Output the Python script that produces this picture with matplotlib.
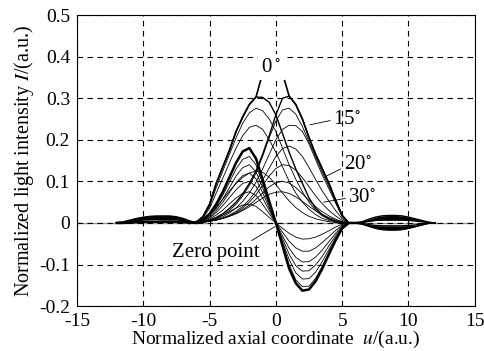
import numpy as np
import matplotlib
matplotlib.use('Agg')
import matplotlib.pyplot as plt

plt.rcParams['font.family'] = ['Liberation Serif', 'DejaVu Serif']
plt.rcParams['mathtext.fontset'] = 'stix'

# axial coordinate grid of the main lobe
u = np.arange(-6.5, 6.51, 0.5)

# main curve (0 deg)
c0 = [0, 0.002, 0.015, 0.045, 0.095, 0.135, 0.175, 0.22, 0.255, 0.285, 0.303, 0.36, 0.40, 0.405,
      0.36, 0.305, 0.285, 0.25, 0.205, 0.165, 0.13, 0.095, 0.055, 0.018, 0, 0, 0]

# bells shifted to the left
l1 = [0, 0.002, 0.015, 0.045, 0.095, 0.135, 0.175, 0.22, 0.255, 0.285, 0.303, 0.302, 0.29, 0.26,
      0.215, 0.17, 0.13, 0.095, 0.06, 0.035, 0.02, 0.01, 0.004, 0.001, 0, 0, 0]
l2 = [0, 0.002, 0.013, 0.04, 0.085, 0.125, 0.165, 0.205, 0.24, 0.265, 0.276, 0.27, 0.25, 0.22,
      0.18, 0.14, 0.105, 0.075, 0.05, 0.03, 0.017, 0.009, 0.004, 0.001, 0, 0, 0]
l3 = [0, 0.002, 0.012, 0.035, 0.072, 0.108, 0.145, 0.18, 0.21, 0.23, 0.235, 0.225, 0.2, 0.17,
      0.135, 0.1, 0.072, 0.05, 0.033, 0.02, 0.011, 0.006, 0.003, 0.001, 0, 0, 0]
l4 = [0, 0.002, 0.008, 0.02, 0.037, 0.057, 0.077, 0.095, 0.11, 0.12, 0.125, 0.122, 0.11, 0.092,
      0.072, 0.053, 0.037, 0.025, 0.016, 0.01, 0.006, 0.003, 0.001, 0, 0, 0, 0]

# bells shifted to the right
r1 = [0, 0.001, 0.003, 0.007, 0.013, 0.022, 0.035, 0.05, 0.07, 0.095, 0.125, 0.165, 0.21, 0.26,
      0.30, 0.305, 0.285, 0.25, 0.205, 0.165, 0.13, 0.095, 0.055, 0.018, 0, 0, 0]
r2 = [0, 0.001, 0.003, 0.006, 0.011, 0.019, 0.03, 0.045, 0.065, 0.09, 0.12, 0.16, 0.205, 0.245,
      0.272, 0.276, 0.262, 0.232, 0.195, 0.158, 0.122, 0.088, 0.052, 0.017, 0, 0, 0]
r3 = [0, 0.001, 0.002, 0.005, 0.009, 0.015, 0.024, 0.036, 0.052, 0.072, 0.098, 0.13, 0.165, 0.2,
      0.225, 0.235, 0.234, 0.22, 0.19, 0.152, 0.115, 0.082, 0.048, 0.015, 0, 0, 0]
r4 = [0, 0.001, 0.002, 0.004, 0.007, 0.012, 0.019, 0.028, 0.04, 0.056, 0.077, 0.103, 0.132, 0.16,
      0.179, 0.185, 0.178, 0.16, 0.133, 0.104, 0.077, 0.053, 0.03, 0.01, 0, 0, 0]
r5 = [0, 0.001, 0.002, 0.004, 0.007, 0.011, 0.017, 0.025, 0.036, 0.05, 0.068, 0.09, 0.113, 0.131,
      0.14, 0.138, 0.127, 0.109, 0.087, 0.065, 0.046, 0.03, 0.017, 0.006, 0, 0, 0]
r6 = [0, 0.001, 0.002, 0.004, 0.007, 0.011, 0.016, 0.023, 0.032, 0.043, 0.057, 0.072, 0.087, 0.097,
      0.1, 0.096, 0.085, 0.07, 0.054, 0.039, 0.027, 0.017, 0.009, 0.003, 0, 0, 0]
r7 = [0, 0.001, 0.002, 0.004, 0.007, 0.011, 0.016, 0.022, 0.03, 0.039, 0.049, 0.06, 0.069, 0.074,
      0.075, 0.071, 0.063, 0.052, 0.04, 0.029, 0.02, 0.013, 0.007, 0.002, 0, 0, 0]

# curves going through the zero point
n1 = [0, 0.002, 0.008, 0.022, 0.045, 0.075, 0.11, 0.145, 0.172, 0.18, 0.155, 0.105, 0.052, 0,
      -0.055, -0.11, -0.145, -0.163, -0.16, -0.14, -0.11, -0.075, -0.042, -0.013, 0, 0, 0]
n2 = [0, 0.002, 0.007, 0.02, 0.04, 0.067, 0.098, 0.13, 0.153, 0.16, 0.14, 0.095, 0.047, 0,
      -0.05, -0.1, -0.137, -0.153, -0.152, -0.133, -0.104, -0.071, -0.04, -0.012, 0, 0, 0]
n3 = [0, 0.002, 0.006, 0.017, 0.035, 0.058, 0.085, 0.113, 0.133, 0.14, 0.123, 0.085, 0.042, 0,
      -0.045, -0.088, -0.12, -0.135, -0.134, -0.118, -0.093, -0.064, -0.036, -0.011, 0, 0, 0]
n4 = [0, 0.001, 0.005, 0.014, 0.03, 0.05, 0.073, 0.097, 0.114, 0.12, 0.106, 0.073, 0.036, 0,
      -0.038, -0.075, -0.103, -0.116, -0.115, -0.101, -0.08, -0.055, -0.031, -0.01, 0, 0, 0]
n5 = [0, 0.001, 0.004, 0.012, 0.025, 0.042, 0.061, 0.08, 0.095, 0.1, 0.088, 0.06, 0.03, 0,
      -0.031, -0.061, -0.083, -0.094, -0.093, -0.082, -0.065, -0.045, -0.025, -0.008, 0, 0, 0]
n6 = [0, 0.001, 0.003, 0.009, 0.019, 0.031, 0.046, 0.06, 0.071, 0.075, 0.066, 0.045, 0.022, 0,
      -0.022, -0.044, -0.06, -0.068, -0.068, -0.06, -0.047, -0.033, -0.018, -0.006, 0, 0, 0]
n7 = [0, 0.001, 0.002, 0.005, 0.011, 0.019, 0.027, 0.036, 0.043, 0.045, 0.04, 0.027, 0.013, 0,
      -0.013, -0.025, -0.034, -0.039, -0.038, -0.034, -0.027, -0.019, -0.01, -0.003, 0, 0, 0]

# side lobes
u_left = np.arange(-12, -5.99, 0.5)
left_outer = [0, 0.002, 0.006, 0.01, 0.013, 0.015, 0.016, 0.016, 0.016, 0.014, 0.01, 0.004, 0]
left_inner = [0, 0.001, 0.003, 0.005, 0.007, 0.008, 0.008, 0.007, 0.007, 0.007, 0.005, 0.002, 0]
left_base = [0, 0, 0.001, 0.002, 0.003, 0.003, 0.003, 0.003, 0.003, 0.003, 0.002, 0.001, 0]

u_right = np.arange(6, 12.01, 0.5)
right_up_outer = [0, 0.003, 0.009, 0.014, 0.017, 0.018, 0.018, 0.017, 0.014, 0.01, 0.006, 0.002, 0]
right_up_inner = [0, 0.001, 0.004, 0.006, 0.007, 0.007, 0.007, 0.007, 0.006, 0.005, 0.003, 0.001, 0]
right_lo_outer = [0, -0.003, -0.008, -0.013, -0.016, -0.017, -0.017, -0.016, -0.013, -0.009, -0.005, -0.001, 0]
right_lo_inner = [0, -0.001, -0.004, -0.006, -0.007, -0.007, -0.007, -0.007, -0.006, -0.005, -0.002, -0.001, 0]

fig = plt.figure(figsize=(4.84, 3.51), dpi=100)
ax = fig.add_axes([0.159, 0.128, 0.822, 0.829])

ax.axhline(0, color='#999999', lw=1.0, zorder=1)

thin = [l2, l3, l4, r2, r3, r4, r5, r6, r7, n2, n3, n4, n5, n6, n7]
for c in thin:
    ax.plot(u, c, color='black', lw=0.6, zorder=3)
ax.plot(u, l1, color='black', lw=1.0, zorder=3)
ax.plot(u, r1, color='black', lw=1.0, zorder=3)
ax.plot(u, n1, color='black', lw=1.8, zorder=3)
ax.plot(u, c0, color='black', lw=1.2, zorder=3)

ax.fill_between(u_left, left_inner, left_outer, color='black', lw=0, zorder=3)
ax.plot(u_left, left_outer, color='black', lw=1.5, zorder=3)
ax.plot(u_left, left_base, color='black', lw=1.8, zorder=3)
ax.fill_between(u_right, right_up_inner, right_up_outer, color='black', lw=0, zorder=3)
ax.fill_between(u_right, right_lo_outer, right_lo_inner, color='black', lw=0, zorder=3)
for c in [right_up_outer, right_up_inner, right_lo_outer, right_lo_inner]:
    ax.plot(u_right, c, color='black', lw=1.0, zorder=3)

ax.set_xlim(-15, 15)
ax.set_ylim(-0.2, 0.5)
ax.set_xticks([-15, -10, -5, 0, 5, 10, 15])
ax.set_xticklabels(['-15', '-10', '-5', '0', '5', '10', '15'])
ax.set_yticks([-0.2, -0.1, 0, 0.1, 0.2, 0.3, 0.4, 0.5])
ax.set_yticklabels(['-0.2', '-0.1', '0', '0.1', '0.2', '0.3', '0.4', '0.5'])
ax.tick_params(direction='in', length=0, labelsize=14)
ax.tick_params(axis='x', pad=5)
ax.tick_params(axis='y', pad=5)
ax.grid(True, color='black', linestyle=(0, (5, 4)), lw=0.8, zorder=0)
for s in ax.spines.values():
    s.set_linewidth(0.8)

ax.set_xlabel(r'Normalized axial coordinate  $\it{u}$/(a.u.)', fontsize=14, labelpad=-1)
ax.set_ylabel(r'Normalized light intensity $\it{I}$/(a.u.)', fontsize=14.5, labelpad=2)

ax.text(-1.1, 0.375, r'0$\,^{\circ}$', fontsize=15, va='center', ha='left', zorder=5,
        bbox=dict(facecolor='white', edgecolor='none', pad=2.5))
lead = dict(arrowstyle='-', lw=0.6, color='black', shrinkA=0, shrinkB=0)
ax.annotate(r'15$^{\circ}$', xy=(2.56, 0.236), xytext=(4.3, 0.25), fontsize=15, va='center',
            arrowprops=dict(lead, relpos=(0, 0.45)), zorder=5)
ax.annotate(r'20$^{\circ}$', xy=(3.7, 0.111), xytext=(5.1, 0.14), fontsize=15, va='center',
            arrowprops=dict(lead, relpos=(0, 0.35)), zorder=5)
ax.annotate(r'30$^{\circ}$', xy=(3.6, 0.05), xytext=(5.45, 0.06), fontsize=15, va='center',
            arrowprops=dict(lead, relpos=(0, 0.5)), zorder=5)
ax.annotate('Zero point', xy=(-0.08, -0.009), xytext=(-7.8, -0.072), fontsize=15, va='center',
            arrowprops=dict(lead, relpos=(0.85, 1.0)), zorder=5)

fig.savefig('out.png', dpi=100)
